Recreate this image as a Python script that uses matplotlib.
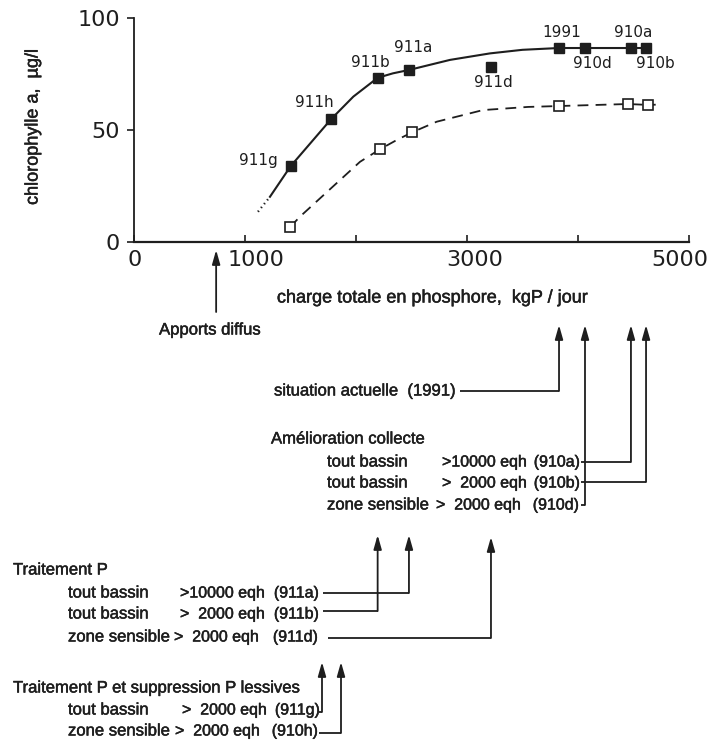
import matplotlib
matplotlib.use("Agg")
import matplotlib.pyplot as plt
import matplotlib.patheffects as pe
from matplotlib.transforms import ScaledTranslation

# ---- data -------------------------------------------------------------
# scenarios (filled squares) : P load (kgP/day) and chlorophyll a (µg/l)
scen_labels = ["911g", "911h", "911b", "911a", "911d", "1991", "910d", "910a", "910b"]
scen_load = [1412, 1775, 2195, 2477, 3216, 3829, 4063, 4477, 4613]
scen_chl = [33.9, 54.8, 73.3, 76.8, 78.0, 86.6, 86.6, 86.6, 86.6]

# second series (open squares)
open_load = [1405, 2216, 2507, 3829, 4450, 4630]
open_chl = [6.6, 41.4, 49.0, 60.7, 61.6, 61.2]

# solid response curve
curve_load = [1225, 1412, 1775, 1976, 2195, 2333, 2477, 2847, 3207, 3500, 3829, 4613]
curve_chl = [20.2, 33.9, 54.8, 64.9, 73.3, 75.3, 76.8, 81.3, 84.2, 85.8, 86.6, 86.6]

# dotted extension of the solid curve
dot_load = [1117, 1225]
dot_chl = [13.5, 20.2]

# dashed response curve
dash_load = [1405, 1495, 2036, 2216, 2366, 2507, 2727, 3144, 3550, 3829, 4450, 4630, 4700]
dash_chl = [6.6, 11.3, 35.8, 41.4, 45.5, 49.0, 53.7, 58.9, 60.3, 60.7, 61.6, 61.2, 61.3]

diffuse_load = 740

x_ticks = [0, 1000, 3000, 5000]
x_minor = [2000, 4000]
y_ticks = [0, 50, 100]

# ---- style -----------------------------------------------------------
INK = "#1e1e1e"
W, H = 718, 743
NUM_FONT = "DejaVu Sans"
TXT_FONT = ["Liberation Sans", "DejaVu Sans"]
HEAVY = [pe.withStroke(linewidth=0.35, foreground=INK)]

fig = plt.figure(figsize=(W / 100, H / 100), dpi=100)
fig.patch.set_facecolor("white")

ax = fig.add_axes([134 / W, (H - 242) / H, (689 - 134) / W, 224 / H])
ax.set_xlim(0, 5000)
ax.set_ylim(0, 100)
for s in ("top", "right"):
    ax.spines[s].set_visible(False)
for s in ("left", "bottom"):
    ax.spines[s].set_color(INK)
ax.spines["left"].set_linewidth(1.3)
ax.spines["bottom"].set_linewidth(1.6)
ax.spines["left"].set_bounds(0, 100)
ax.spines["bottom"].set_bounds(0, 5000)

ax.set_xticks(x_ticks)
ax.set_xticks(x_minor, minor=True)
ax.set_yticks(y_ticks)
ax.tick_params(axis="x", which="both", direction="in", length=5, width=1.2,
               color=INK, labelsize=16, labelcolor=INK, pad=6)
ax.tick_params(axis="y", direction="out", length=5, width=1.2,
               color=INK, labelsize=16, labelcolor=INK, pad=5)
for lab in ax.get_xticklabels() + ax.get_yticklabels():
    lab.set_fontfamily(NUM_FONT)

# nudge the x tick labels sideways as in the printed figure
x_label_shift_px = [1, 11, 8, -9]
for lab, dx in zip(ax.get_xticklabels(), x_label_shift_px):
    lab.set_transform(lab.get_transform() + ScaledTranslation(dx / 100, 0, fig.dpi_scale_trans))

# curves
ax.plot(dot_load, dot_chl, color=INK, lw=1.6, ls=(0, (0.6, 1.6)), clip_on=False)
ax.plot(curve_load, curve_chl, color=INK, lw=1.5, clip_on=False, zorder=2)
ax.plot(dash_load, dash_chl, color=INK, lw=1.3, ls=(0, (6, 4)), clip_on=False, zorder=2)

ax.plot(scen_load, scen_chl, ls="none", marker="s", ms=7.3, mfc=INK, mec=INK,
        clip_on=False, zorder=3)
ax.plot(open_load, open_chl, ls="none", marker="s", ms=7.3, mfc="white", mec=INK,
        mew=1.2, clip_on=False, zorder=3)

label_offsets = {
    "911g": (-23, 4.3), "911h": (-12, 11.7), "911b": (-5.5, 10.8),
    "911a": (3, 16.5), "911d": (2, -11.3), "1991": (2, 11.5),
    "910d": (5, -10.8), "910a": (1.5, 11.5), "910b": (7, -10.8),
}
for lab, x, y in zip(scen_labels, scen_load, scen_chl):
    ax.annotate(lab, (x, y), xytext=label_offsets[lab], textcoords="offset points",
                ha="center", va="center", fontsize=11, family=NUM_FONT, color=INK)

# ---- annotation layer in pixel coordinates ---------------------------
ov = fig.add_axes([0, 0, 1, 1])
ov.set_xlim(0, W)
ov.set_ylim(H, 0)
ov.axis("off")
ov.patch.set_alpha(0)


def px(load):
    """horizontal pixel position of a load value on the chart axis"""
    return ax.transData.transform((load, 0))[0]


def txt(x, y, s, **kw):
    kw.setdefault("fontsize", 12)
    ov.text(x, y, s, ha=kw.pop("ha", "left"), va="center", color=INK,
            family=TXT_FONT, path_effects=HEAVY, **kw)


def row(y, x_left, x_cond, x_code_end, left, cond, code):
    """one scenario line: area, size threshold, scenario code"""
    txt(x_left, y, left)
    txt(x_cond, y, cond, fontsize=11.5)
    txt(x_code_end, y, code, ha="right", fontsize=11.5)


def arrow_up(x, tip, bottom):
    ov.annotate("", xy=(x, tip), xytext=(x, bottom),
                arrowprops=dict(arrowstyle="-|>,head_length=0.6,head_width=0.17",
                                lw=1.3, color=INK, shrinkA=0, shrinkB=0,
                                mutation_scale=14))


def elbow(x0, y, x, tip):
    ov.plot([x0, x], [y, y], color=INK, lw=1.3, solid_capstyle="butt")
    arrow_up(x, tip, y)


# axis titles
txt(432, 298, "charge totale en phosphore,  kgP / jour", ha="center", fontsize=13)
ov.text(33, 127, "chlorophylle a,  µg/l", rotation=90, ha="center", va="center",
        color=INK, family=TXT_FONT, fontsize=13, path_effects=HEAVY)

# diffuse inputs
arrow_up(px(diffuse_load), 250, 312)
txt(210, 330, "Apports diffus", ha="center")

# current situation and collection scenarios
x1991, x910d, x910a, x910b = (px(v) for v in (scen_load[5], scen_load[6],
                                                scen_load[7], scen_load[8]))
txt(274, 391, "situation actuelle  (1991)")
elbow(460, 391, x1991, 325)

txt(271, 439, "Amélioration collecte")
row(462, 327, 442, 580, "tout bassin", ">10000 eqh", "(910a)")
row(483, 327, 442, 580, "tout bassin", ">  2000 eqh", "(910b)")
row(505, 327, 436, 579, "zone sensible", ">  2000 eqh", "(910d)")
elbow(581, 505, x910d, 325)
elbow(581, 462, x910a, 325)
elbow(581, 482, x910b, 325)

# P treatment scenarios
x911b, x911a, x911d = px(scen_load[2]), px(scen_load[3]), px(scen_load[4])
txt(13, 570, "Traitement P")
row(593, 68, 180, 319, "tout bassin", ">10000 eqh", "(911a)")
row(614, 68, 180, 319, "tout bassin", ">  2000 eqh", "(911b)")
row(637, 68, 174, 318, "zone sensible", ">  2000 eqh", "(911d)")
elbow(323, 593, x911a, 535)
elbow(323, 611, x911b, 535)
elbow(328, 638, x911d, 537)

# P treatment + phosphate-free detergents
txt(13, 688, "Traitement P et suppression P lessives")
row(710, 68, 182, 320, "tout bassin", ">  2000 eqh", "(911g)")
row(731, 68, 175, 318, "zone sensible", ">  2000 eqh", "(910h)")
elbow(319, 712, 322, 662)
elbow(319, 733, 341, 662)

fig.savefig("out.png", dpi=100, facecolor="white")
